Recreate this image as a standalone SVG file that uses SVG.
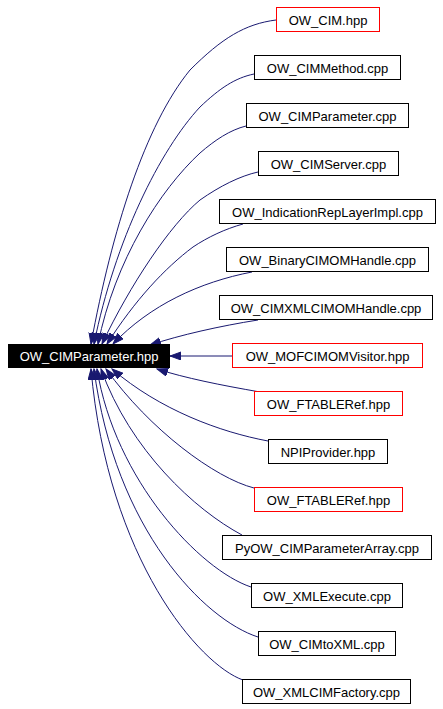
<svg xmlns="http://www.w3.org/2000/svg" width="443" height="709" viewBox="0 0 443 709">
<defs>
<marker id="ah" markerUnits="userSpaceOnUse" markerWidth="12" markerHeight="10" refX="11" refY="4" orient="auto" viewBox="0 0 12 10">
<polygon points="0,0 11,4 0,8" fill="#191970" stroke="#191970" stroke-width="1"/>
</marker>
</defs>
<style>
.n rect{fill:#fff;stroke:#000;stroke-width:1}
.n.r rect{stroke:#ff0000}
.n text{font-family:"Liberation Sans",Arial,sans-serif;font-size:13px;fill:#000;text-anchor:middle}
#main rect{fill:#000;stroke:#000}
#main text{fill:#fff}
.e path{fill:none;stroke:#191970;stroke-width:1;marker-end:url(#ah)}
</style>
<rect width="443" height="709" fill="#fff"/>
<g class="e" id="edges">
<path d="M276,20 C245,24 222,38 190,70 C145,125 112,230 91,344"/>
<path d="M254,74 C235,78 220,88 200,107 C160,150 115,240 94,344"/>
<path d="M246,126 C230,130 215,140 200,153 C160,190 115,260 98,344"/>
<path d="M258,172 C240,176 220,186 200,200 C170,225 130,285 102,344"/>
<path d="M243,224 C225,229 208,237 193,247 C165,268 135,300 107,344"/>
<path d="M252,272 C200,282 150,305 113,344"/>
<path d="M258,320 C220,326 180,335 150,345"/>
<path d="M232,356 L170,356"/>
<path d="M260,392 C220,385 185,378 157,369"/>
<path d="M268,441 C220,432 160,410 112,369"/>
<path d="M254,488 C215,478 150,430 106,369"/>
<path d="M242,535 C195,510 130,450 101,369"/>
<path d="M251,587 C200,570 115,480 97,369"/>
<path d="M258,637 C205,620 115,530 94,369"/>
<path d="M243,680 C200,665 108,560 91,369"/>
</g>
<g class="n" id="main"><rect x="8.5" y="344.5" width="161" height="23"/><text x="89" y="361">OW_CIMParameter.hpp</text></g>
<g class="n r" id="n1"><rect x="276.5" y="7.5" width="103" height="24"/><text x="328" y="24.5">OW_CIM.hpp</text></g>
<g class="n" id="n2"><rect x="254.5" y="55.5" width="146" height="24"/><text x="327.5" y="72.5">OW_CIMMethod.cpp</text></g>
<g class="n" id="n3"><rect x="246.5" y="103.5" width="162" height="24"/><text x="327.5" y="120.5">OW_CIMParameter.cpp</text></g>
<g class="n" id="n4"><rect x="258.5" y="151.5" width="140" height="24"/><text x="328.5" y="168.5">OW_CIMServer.cpp</text></g>
<g class="n" id="n5"><rect x="219.5" y="199.5" width="216" height="24"/><text x="327.5" y="216.5">OW_IndicationRepLayerImpl.cpp</text></g>
<g class="n" id="n6"><rect x="226.5" y="247.5" width="202" height="24"/><text x="327.5" y="264.5">OW_BinaryCIMOMHandle.cpp</text></g>
<g class="n" id="n7"><rect x="219.5" y="295.5" width="213" height="24"/><text x="326" y="312.5">OW_CIMXMLCIMOMHandle.cpp</text></g>
<g class="n r" id="n8"><rect x="232.5" y="343.5" width="190" height="24"/><text x="327.5" y="360.5">OW_MOFCIMOMVisitor.hpp</text></g>
<g class="n r" id="n9"><rect x="254.5" y="391.5" width="148" height="24"/><text x="328.5" y="408.5">OW_FTABLERef.hpp</text></g>
<g class="n" id="n10"><rect x="268.5" y="439.5" width="119" height="24"/><text x="328" y="456.5">NPIProvider.hpp</text></g>
<g class="n r" id="n11"><rect x="254.5" y="487.5" width="148" height="24"/><text x="328.5" y="504.5">OW_FTABLERef.hpp</text></g>
<g class="n" id="n12"><rect x="222.5" y="535.5" width="209" height="24"/><text x="327" y="552.5">PyOW_CIMParameterArray.cpp</text></g>
<g class="n" id="n13"><rect x="251.5" y="583.5" width="151" height="24"/><text x="327" y="600.5">OW_XMLExecute.cpp</text></g>
<g class="n" id="n14"><rect x="258.5" y="631.5" width="137" height="24"/><text x="327" y="648.5">OW_CIMtoXML.cpp</text></g>
<g class="n" id="n15"><rect x="242.5" y="679.5" width="168" height="24"/><text x="326.5" y="696.5">OW_XMLCIMFactory.cpp</text></g>
</svg>
